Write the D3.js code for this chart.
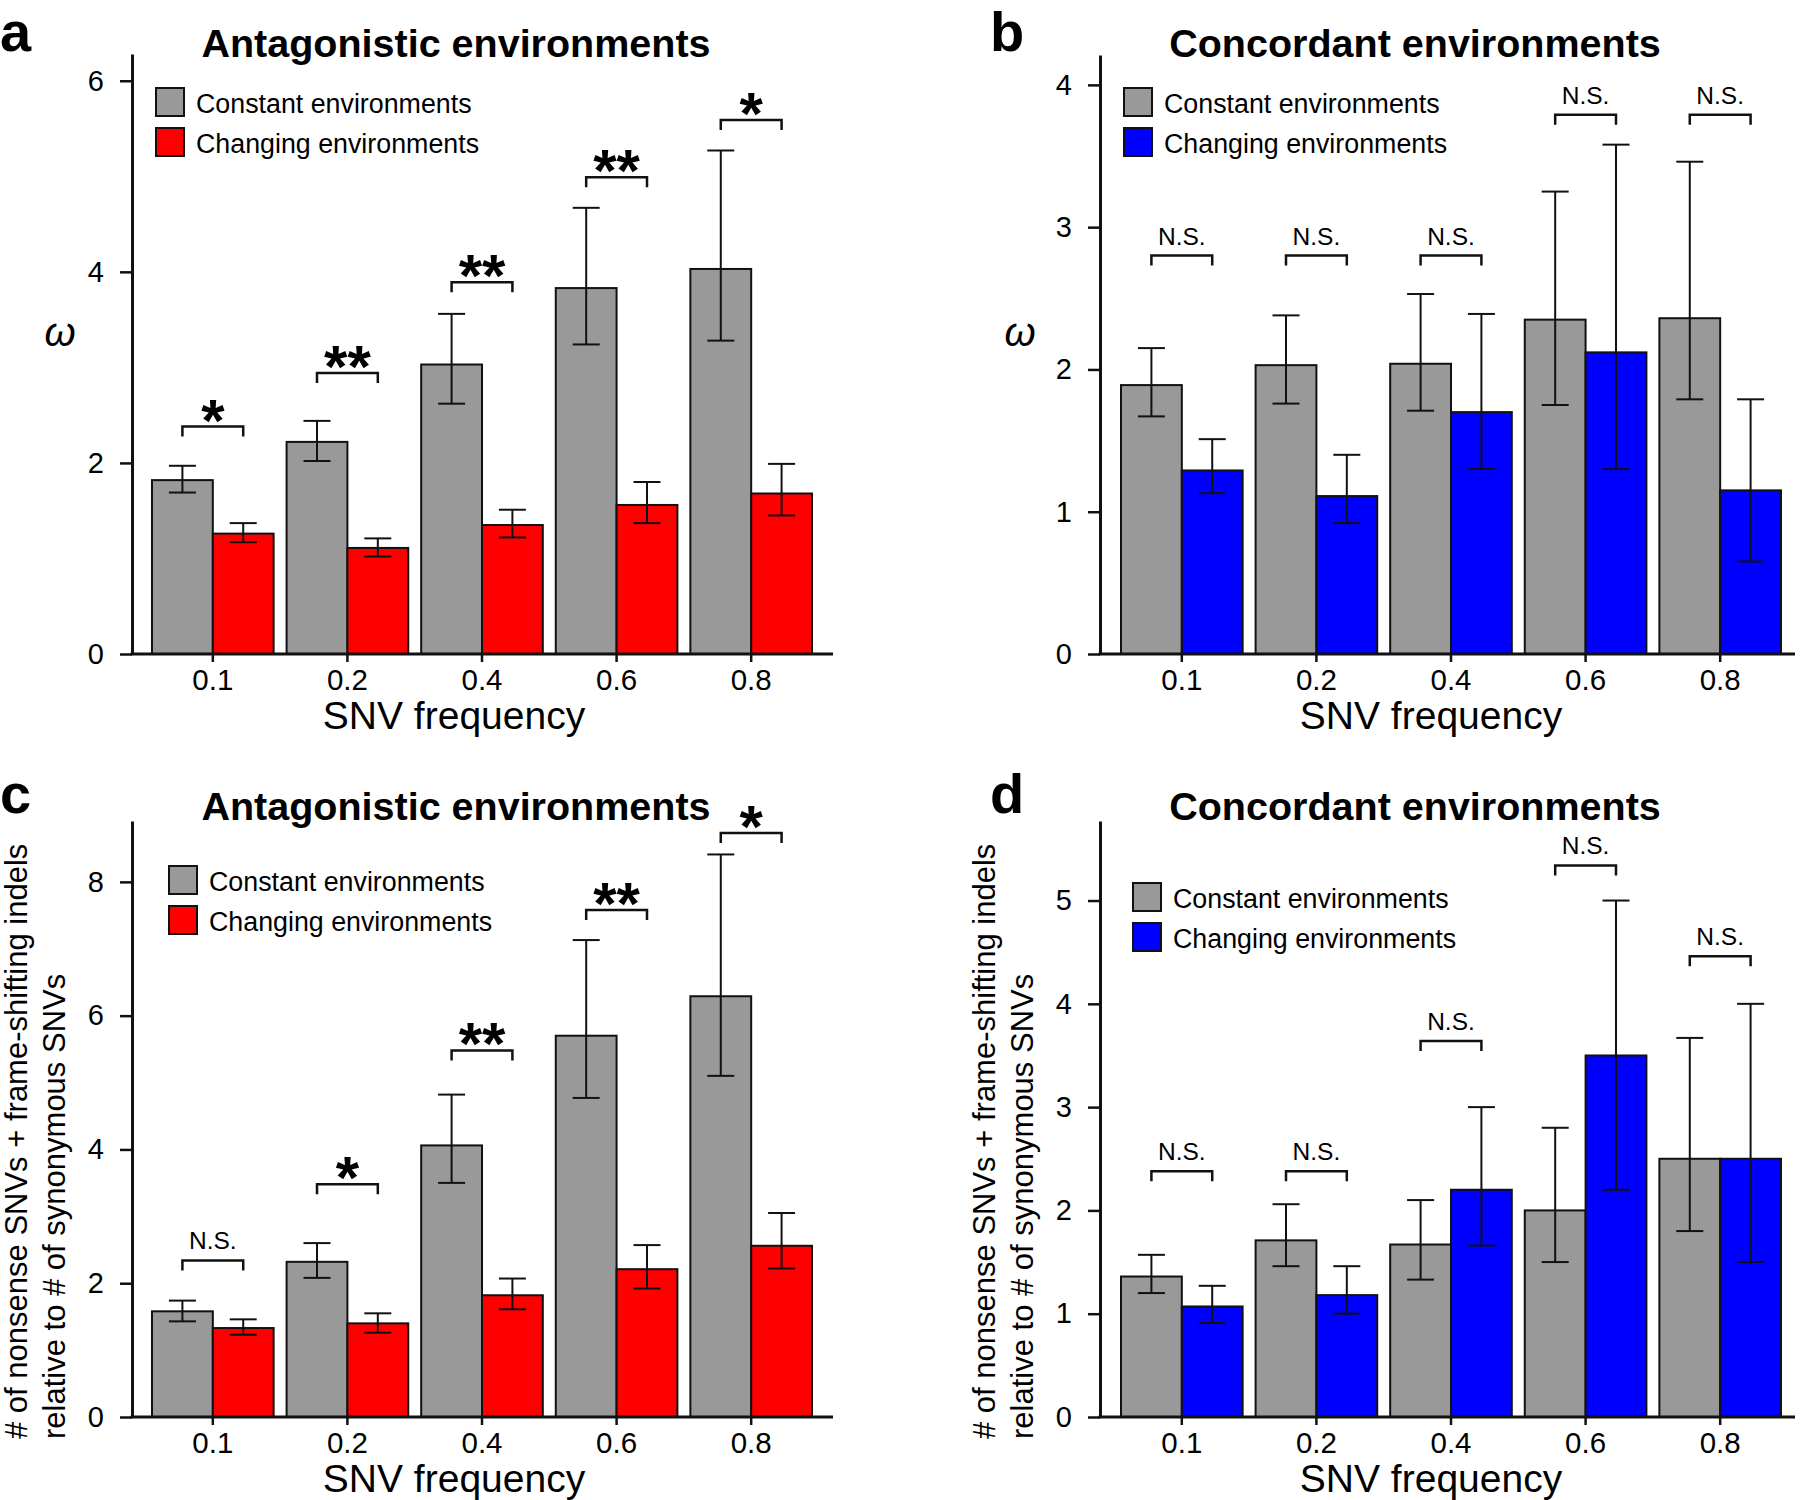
<!DOCTYPE html>
<html>
<head>
<meta charset="utf-8">
<script src="https://cdn.jsdelivr.net/npm/d3@7"></script>
<style>
  html, body { margin: 0; padding: 0; background: #fff; }
  svg { display: block; }
</style>
</head>
<body>
<svg id="chart" width="1800" height="1500"></svg>
<script>
// ---------------- DATA ----------------
const categories = ["0.1", "0.2", "0.4", "0.6", "0.8"];
const seriesNames = ["Constant environments", "Changing environments"];

// Panel a: omega, antagonistic
const aConstant     = [1.82, 2.22, 3.03, 3.83, 4.03];
const aConstantLow  = [1.69, 2.02, 2.62, 3.24, 3.28];
const aConstantHigh = [1.97, 2.44, 3.56, 4.67, 5.27];
const aChanging     = [1.26, 1.11, 1.35, 1.56, 1.68];
const aChangingLow  = [1.17, 1.02, 1.22, 1.37, 1.45];
const aChangingHigh = [1.37, 1.21, 1.51, 1.80, 1.99];
const aSignif       = ["*", "**", "**", "**", "*"];
const aBracket      = [2.38, 2.94, 3.89, 4.99, 5.59];
const aTicks        = [0, 2, 4, 6];

// Panel b: omega, concordant
const bConstant     = [1.89, 2.03, 2.04, 2.35, 2.36];
const bConstantLow  = [1.67, 1.76, 1.71, 1.75, 1.79];
const bConstantHigh = [2.15, 2.38, 2.53, 3.25, 3.46];
const bChanging     = [1.29, 1.11, 1.70, 2.12, 1.15];
const bChangingLow  = [1.13, 0.92, 1.30, 1.30, 0.65];
const bChangingHigh = [1.51, 1.40, 2.39, 3.58, 1.79];
const bSignif       = ["N.S.", "N.S.", "N.S.", "N.S.", "N.S."];
const bBracket      = [2.80, 2.80, 2.80, 3.79, 3.79];
const bTicks        = [0, 1, 2, 3, 4];

// Panel c: nonsense ratio, antagonistic
const cConstant     = [1.58, 2.32, 4.06, 5.70, 6.29];
const cConstantLow  = [1.43, 2.08, 3.50, 4.77, 5.10];
const cConstantHigh = [1.74, 2.60, 4.82, 7.13, 8.41];
const cChanging     = [1.33, 1.40, 1.82, 2.21, 2.56];
const cChangingLow  = [1.23, 1.26, 1.61, 1.92, 2.22];
const cChangingHigh = [1.46, 1.55, 2.07, 2.57, 3.05];
const cSignif       = ["N.S.", "*", "**", "**", "*"];
const cBracket      = [2.34, 3.48, 5.48, 7.58, 8.73];
const cTicks        = [0, 2, 4, 6, 8];

// Panel d: nonsense ratio, concordant
const dConstant     = [1.36, 1.71, 1.67, 2.00, 2.50];
const dConstantLow  = [1.20, 1.46, 1.33, 1.50, 1.80];
const dConstantHigh = [1.57, 2.06, 2.10, 2.80, 3.67];
const dChanging     = [1.07, 1.18, 2.20, 3.50, 2.50];
const dChangingLow  = [0.91, 1.00, 1.66, 2.20, 1.50];
const dChangingHigh = [1.27, 1.46, 3.00, 5.00, 4.00];
const dSignif       = ["N.S.", "N.S.", "N.S.", "N.S.", "N.S."];
const dBracket      = [2.38, 2.38, 3.64, 5.34, 4.46];
const dTicks        = [0, 1, 2, 3, 4, 5];

const titleAnt = "Antagonistic environments";
const titleCon = "Concordant environments";
const xTitle = "SNV frequency";
const yTitleOmega = "ω";
const yTitleRatio = ["# of nonsense SNVs + frame-shifting indels", "relative to # of synonymous SNVs"];

// ---------------- STYLE ----------------
const FONT = "'Liberation Sans', Arial, Helvetica, sans-serif";
const GRAY = "#999999", RED = "#ff0000", BLUE = "#0000ff", INK = "#111111";

const svg = d3.select("#chart");

const panels = [
  { label: "a", title: titleAnt, color: RED,
    con: aConstant, conLo: aConstantLow, conHi: aConstantHigh,
    chg: aChanging, chgLo: aChangingLow, chgHi: aChangingHigh,
    sig: aSignif, br: aBracket, ticks: aTicks, yMax: 6.28,
    x0: 132, x1: 833, bx0: 152, bx1: 812, yBot: 654, yTop: 54,
    legX: 156, legY: 88, labX: 0, labY: 51, titleX: 456, titleY: 57, xtX: 454, xtY: 729,
    yTitle: "omega", omegaX: 60, omegaY: 346 },
  { label: "b", title: titleCon, color: BLUE,
    con: bConstant, conLo: bConstantLow, conHi: bConstantHigh,
    chg: bChanging, chgLo: bChangingLow, chgHi: bChangingHigh,
    sig: bSignif, br: bBracket, ticks: bTicks, yMax: 4.21,
    x0: 1100, x1: 1795, bx0: 1121, bx1: 1781, yBot: 654, yTop: 55,
    legX: 1124, legY: 88, labX: 990, labY: 51, titleX: 1415, titleY: 57, xtX: 1431, xtY: 729,
    yTitle: "omega", omegaX: 1020, omegaY: 346 },
  { label: "c", title: titleAnt, color: RED,
    con: cConstant, conLo: cConstantLow, conHi: cConstantHigh,
    chg: cChanging, chgLo: cChangingLow, chgHi: cChangingHigh,
    sig: cSignif, br: cBracket, ticks: cTicks, yMax: 8.91,
    x0: 132, x1: 833, bx0: 152, bx1: 812, yBot: 1417, yTop: 821,
    legX: 169, legY: 866, labX: 0, labY: 813, titleX: 456, titleY: 820, xtX: 454, xtY: 1492,
    yTitle: "ratio", ylX1: 27, ylX2: 65, ylY: 1439 },
  { label: "d", title: titleCon, color: BLUE,
    con: dConstant, conLo: dConstantLow, conHi: dConstantHigh,
    chg: dChanging, chgLo: dChangingLow, chgHi: dChangingHigh,
    sig: dSignif, br: dBracket, ticks: dTicks, yMax: 5.77,
    x0: 1100, x1: 1795, bx0: 1121, bx1: 1781, yBot: 1417, yTop: 821,
    legX: 1133, legY: 883, labX: 990, labY: 813, titleX: 1415, titleY: 820, xtX: 1431, xtY: 1492,
    yTitle: "ratio", ylX1: 995, ylX2: 1033, ylY: 1439 }
];

panels.forEach(drawPanel);

function drawPanel(p) {
  const g = svg.append("g").attr("font-family", FONT);

  const x = d3.scaleBand().domain(categories).range([p.bx0, p.bx1]).paddingInner(0.0963).paddingOuter(0);
  const xs = d3.scaleBand().domain(["con", "chg"]).range([0, x.bandwidth()]);
  const y = d3.scaleLinear().domain([0, p.yMax]).range([p.yBot, p.yTop]);

  const rows = categories.map((c, i) => ({
    cat: c,
    vals: [
      { key: "con", v: p.con[i], lo: p.conLo[i], hi: p.conHi[i], fill: GRAY },
      { key: "chg", v: p.chg[i], lo: p.chgLo[i], hi: p.chgHi[i], fill: p.color }
    ],
    sig: p.sig[i], br: p.br[i]
  }));

  // bars
  const grp = g.selectAll("g.grp").data(rows).join("g").attr("class", "grp")
    .attr("transform", d => `translate(${x(d.cat)},0)`);
  grp.selectAll("rect").data(d => d.vals).join("rect")
    .attr("x", d => xs(d.key))
    .attr("y", d => y(d.v))
    .attr("width", xs.bandwidth())
    .attr("height", d => y(0) - y(d.v))
    .attr("fill", d => d.fill)
    .attr("stroke", INK).attr("stroke-width", 2);

  // error bars
  const cap = 13.5;
  const cx = d => xs(d.key) + xs.bandwidth() / 2;
  const eb = grp.selectAll("g.eb").data(d => d.vals).join("g").attr("class", "eb")
    .attr("stroke", INK).attr("stroke-width", 2);
  eb.append("line").attr("x1", cx).attr("x2", cx)
    .attr("y1", d => y(d.lo)).attr("y2", d => y(d.hi));
  eb.append("line").attr("x1", d => cx(d) - cap).attr("x2", d => cx(d) + cap)
    .attr("y1", d => y(d.lo)).attr("y2", d => y(d.lo));
  eb.append("line").attr("x1", d => cx(d) - cap).attr("x2", d => cx(d) + cap)
    .attr("y1", d => y(d.hi)).attr("y2", d => y(d.hi));

  // significance brackets
  const leg = 10;
  grp.append("path")
    .attr("d", d => {
      const xa = xs("con") + xs.bandwidth() / 2, xb = xs("chg") + xs.bandwidth() / 2, yy = y(d.br);
      return `M${xa},${yy + leg}V${yy}H${xb}V${yy + leg}`;
    })
    .attr("fill", "none").attr("stroke", INK).attr("stroke-width", 2.5);
  grp.append("text")
    .attr("x", x.bandwidth() / 2)
    .attr("y", d => d.sig === "N.S." ? y(d.br) - 11 : y(d.br) + 14)
    .attr("text-anchor", "middle")
    .attr("font-size", d => d.sig === "N.S." ? 24.5 : 60)
    .attr("font-weight", d => d.sig === "N.S." ? "normal" : "bold")
    .attr("fill", "#000")
    .text(d => d.sig);

  // y axis
  const yAxis = d3.axisLeft(y).tickValues(p.ticks).tickFormat(d3.format("d"))
    .tickSize(12).tickSizeOuter(0).tickPadding(16);
  const ya = g.append("g").attr("transform", `translate(${p.x0},0)`).call(yAxis);
  ya.select(".domain").attr("stroke", INK).attr("stroke-width", 3);
  ya.selectAll(".tick line").attr("stroke", INK).attr("stroke-width", 2.5);
  ya.selectAll(".tick text").attr("font-size", 29).attr("font-family", FONT).attr("fill", "#000");

  // x axis
  const xAxis = d3.axisBottom(x).tickSize(8).tickPadding(7).tickSizeOuter(0);
  const xa = g.append("g").attr("transform", `translate(0,${p.yBot})`).call(xAxis);
  xa.select(".domain").remove();
  xa.selectAll(".tick line").attr("stroke", INK).attr("stroke-width", 2.5);
  xa.selectAll(".tick text").attr("font-size", 29.5).attr("font-family", FONT).attr("fill", "#000");
  g.append("line").attr("x1", p.x0 - 1.5).attr("x2", p.x1).attr("y1", p.yBot).attr("y2", p.yBot)
    .attr("stroke", INK).attr("stroke-width", 3);

  // legend
  const lg = g.append("g").attr("transform", `translate(${p.legX},${p.legY})`);
  const legItems = [{ name: seriesNames[0], fill: GRAY }, { name: seriesNames[1], fill: p.color }];
  const li = lg.selectAll("g").data(legItems).join("g").attr("transform", (d, i) => `translate(0,${i * 40})`);
  li.append("rect").attr("width", 28).attr("height", 28).attr("fill", d => d.fill)
    .attr("stroke", INK).attr("stroke-width", 2);
  li.append("text").attr("x", 40).attr("y", 25).attr("font-size", 26.8).attr("fill", "#000").text(d => d.name);

  // titles
  g.append("text").attr("x", p.titleX).attr("y", p.titleY).attr("text-anchor", "middle")
    .attr("font-size", 39.5).attr("font-weight", "bold").text(p.title);
  g.append("text").attr("x", p.labX).attr("y", p.labY).attr("font-size", 56)
    .attr("font-weight", "bold").text(p.label);
  g.append("text").attr("x", p.xtX).attr("y", p.xtY).attr("text-anchor", "middle")
    .attr("font-size", 39).text(xTitle);

  if (p.yTitle === "omega") {
    g.append("text").attr("x", p.omegaX).attr("y", p.omegaY).attr("text-anchor", "middle")
      .attr("font-size", 40).attr("font-style", "italic").text(yTitleOmega);
  } else {
    [p.ylX1, p.ylX2].forEach((xx, i) => {
      g.append("text").attr("transform", `translate(${xx},${p.ylY}) rotate(-90)`)
        .attr("font-size", 31).text(yTitleRatio[i]);
    });
  }
}
</script>
</body>
</html>
